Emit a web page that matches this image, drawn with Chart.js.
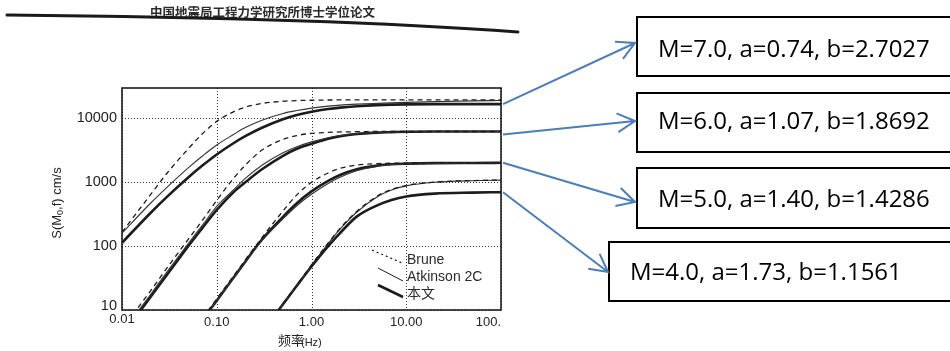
<!DOCTYPE html>
<html>
<head>
<meta charset="utf-8">
<script src="https://cdn.jsdelivr.net/npm/chart.js@4.4.0/dist/chart.umd.min.js"></script>
<style>
    html, body { margin: 0; padding: 0; background: #fff; }
    #wrap { position: relative; width: 950px; height: 351px; }
</style>
</head>
<body>
<div id="wrap"><canvas id="spectrumChart" width="950" height="351"></canvas></div>
<script>
// 频率 (Hz)
const freqs = [0.01, 0.02, 0.03, 0.05, 0.07, 0.1, 0.15, 0.2, 0.3, 0.5, 0.7, 1, 1.5, 2, 3, 5, 7, 10, 20, 50, 100];

// M=7.0
const m7Brune    = [165, 640, 1400, 3350, 5700, 9000, 12700, 15000, 17200, 18600, 19050, 19300, 19450, 19500, 19550, 19600, 19600, 19600, 19600, 19600, 19600];
const m7Atkinson = [160, 470, 840, 1680, 2560, 3850, 5600, 7200, 9400, 12000, 13300, 14500, 15600, 16200, 16750, 17250, 17550, 17850, 18350, 18850, 19150];
const m7Paper    = [113, 331, 596, 1190, 1810, 2730, 4090, 5270, 7140, 9700, 11300, 12700, 14050, 14800, 15550, 16200, 16470, 16650, 16770, 16800, 16800];
// M=6.0
const m6Brune    = [5, 20, 46, 128, 250, 520, 1150, 1850, 3200, 4700, 5400, 5850, 6050, 6150, 6200, 6250, 6250, 6250, 6250, 6250, 6250];
const m6Atkinson = [4.4, 17.5, 40, 110, 210, 420, 760, 1150, 1850, 2900, 3600, 4300, 5000, 5400, 5800, 6050, 6150, 6200, 6250, 6250, 6250];
const m6Paper    = [4, 16, 36, 100, 190, 370, 700, 1000, 1600, 2600, 3350, 4000, 4800, 5250, 5700, 6000, 6100, 6200, 6250, 6250, 6250];
// M=5.0
const m5Brune    = [0.15, 0.6, 1.35, 3.7, 7.3, 15, 34, 61, 136, 355, 635, 1000, 1400, 1650, 1860, 1960, 1990, 2000, 2020, 2020, 2020];
const m5Atkinson = [0.14, 0.57, 1.28, 3.5, 7, 14, 32, 57, 122, 268, 430, 650, 960, 1200, 1520, 1790, 1900, 1950, 2000, 2020, 2020];
const m5Paper    = [0.14, 0.57, 1.28, 3.5, 7, 14, 32, 57, 127, 288, 470, 720, 1050, 1300, 1600, 1830, 1920, 1960, 2000, 2010, 2020];
// M=4.0
const m4Brune    = [0.005, 0.02, 0.045, 0.12, 0.24, 0.5, 1.1, 2, 4.5, 12.5, 24.5, 51, 112, 190, 350, 615, 775, 890, 1010, 1065, 1085];
const m4Atkinson = [0.005, 0.02, 0.045, 0.12, 0.24, 0.5, 1.1, 2, 4.5, 12.5, 24, 50, 110, 185, 340, 600, 760, 880, 1000, 1060, 1080];
const m4Paper    = [0.005, 0.02, 0.045, 0.12, 0.24, 0.5, 1.1, 2, 4.4, 12.3, 24, 48, 100, 160, 290, 440, 530, 600, 665, 690, 700];

// 坐标轴刻度
const xTicks = [0.01, 0.1, 1, 10, 100];
const xTickLabels = ['0.01', '0.10', '1.00', '10.00', '100.'];
const yTicks = [10, 100, 1000, 10000];
const yTickLabels = ['10', '100', '1000', '10000'];

// 右侧参数框
const boxTexts = ['M=7.0, a=0.74, b=2.7027', 'M=6.0, a=1.07, b=1.8692', 'M=5.0, a=1.40, b=1.4286', 'M=4.0, a=1.73, b=1.1561'];
const legendLabels = ['Brune', 'Atkinson 2C', '本文'];

const INK = '#1c1c1c';
const BLUE = '#4a7ebb';

function pts(vals) {
    return freqs.map((f, i) => ({ x: f, y: vals[i] }));
}

function brune(vals) {
    return { data: pts(vals), borderColor: INK, borderWidth: 1.3, borderDash: [5, 4] };
}
function atkinson(vals) {
    return { data: pts(vals), borderColor: '#333', borderWidth: 1.1 };
}
function paper(vals) {
    return { data: pts(vals), borderColor: INK, borderWidth: 2.6 };
}

function drawArrow(ctx, x1, y1, x2, y2) {
    const ang = Math.atan2(y2 - y1, x2 - x1);
    const len = 20, spread = 0.49;
    ctx.save();
    ctx.strokeStyle = BLUE;
    ctx.lineWidth = 2;
    ctx.beginPath();
    ctx.moveTo(x1, y1);
    ctx.lineTo(x2, y2);
    ctx.moveTo(x2 - len * Math.cos(ang - spread), y2 - len * Math.sin(ang - spread));
    ctx.lineTo(x2, y2);
    ctx.lineTo(x2 - len * Math.cos(ang + spread), y2 - len * Math.sin(ang + spread));
    ctx.stroke();
    ctx.restore();
}

const decor = {
    id: 'decor',
    beforeDraw(chart) {
        const ctx = chart.ctx;
        ctx.save();
        ctx.fillStyle = '#fff';
        ctx.fillRect(0, 0, chart.width, chart.height);
        ctx.restore();
    },
    beforeDatasetsDraw(chart) {
        // 点状网格线
        const { ctx, chartArea: a } = chart;
        const xs = chart.scales.x, ys = chart.scales.y;
        ctx.save();
        ctx.strokeStyle = '#333';
        ctx.lineWidth = 1;
        ctx.setLineDash([1, 2]);
        ctx.beginPath();
        xTicks.forEach(v => {
            const px = Math.round(xs.getPixelForValue(v)) + 0.5;
            ctx.moveTo(px, a.top);
            ctx.lineTo(px, a.bottom);
        });
        yTicks.forEach(v => {
            const py = Math.round(ys.getPixelForValue(v)) + 0.5;
            ctx.moveTo(a.left, py);
            ctx.lineTo(a.right, py);
        });
        ctx.stroke();
        ctx.restore();
    },
    afterDatasetsDraw(chart) {
        const { ctx, chartArea: a } = chart;
        ctx.save();
        ctx.strokeStyle = INK;
        ctx.lineWidth = 1.6;
        ctx.strokeRect(a.left, a.top, a.right - a.left, a.bottom - a.top);
        ctx.restore();
    },
    afterDraw(chart) {
        const { ctx, chartArea: a } = chart;
        const xs = chart.scales.x, ys = chart.scales.y;
        ctx.save();

        // 页眉
        ctx.fillStyle = '#2a2a2a';
        ctx.font = 'bold 12.5px "Noto Sans CJK SC"';
        ctx.textBaseline = 'middle';
        ctx.textAlign = 'left';
        ctx.fillText('中国地震局工程力学研究所博士学位论文', 150, 12);
        ctx.strokeStyle = '#1a1a1a';
        ctx.lineWidth = 3;
        ctx.lineCap = 'round';
        ctx.beginPath();
        ctx.moveTo(7, 15);
        ctx.quadraticCurveTo(330, 18, 518, 32);
        ctx.stroke();

        // y 刻度
        ctx.fillStyle = '#222';
        ctx.font = '14.5px "Liberation Sans"';
        ctx.textAlign = 'right';
        yTicks.forEach((v, i) => {
            const py = ys.getPixelForValue(v) - (v === yTicks[0] ? 4 : 0);
            ctx.fillText(yTickLabels[i], a.left - 5, py);
        });

        // x 刻度
        ctx.font = '13px "Liberation Sans"';
        ctx.textAlign = 'center';
        xTicks.forEach((v, i) => {
            const w = ctx.measureText(xTickLabels[i]).width;
            const px = Math.min(xs.getPixelForValue(v), a.right - w / 2);
            ctx.fillText(xTickLabels[i], px, a.bottom + (i === 0 ? 9 : 12));
        });

        // 轴标题
        ctx.save();
        ctx.translate(57, 203);
        ctx.rotate(-Math.PI / 2);
        ctx.font = '13px "Liberation Sans"';
        ctx.textAlign = 'left';
        const p1 = 'S(M', p2 = ',f) cm/s';
        const w1 = ctx.measureText(p1).width;
        ctx.font = '9px "Liberation Sans"';
        const w0 = ctx.measureText('0').width;
        ctx.font = '13px "Liberation Sans"';
        const total = w1 + w0 + ctx.measureText(p2).width;
        let tx = -total / 2;
        ctx.fillText(p1, tx, 0);
        tx += w1;
        ctx.font = '9px "Liberation Sans"';
        ctx.fillText('0', tx, 4);
        tx += w0;
        ctx.font = '13px "Liberation Sans"';
        ctx.fillText(p2, tx, 0);
        ctx.restore();

        ctx.textAlign = 'left';
        ctx.font = '13px "Noto Sans CJK SC"';
        ctx.fillText('频率', 278, 340);
        ctx.font = '11px "Liberation Sans"';
        ctx.fillText('(Hz)', 301, 343);

        // 图例
        ctx.strokeStyle = INK;
        ctx.lineCap = 'butt';
        ctx.lineWidth = 1.3;
        ctx.setLineDash([2, 3]);
        ctx.beginPath(); ctx.moveTo(372, 250); ctx.lineTo(402, 263); ctx.stroke();
        ctx.setLineDash([]);
        ctx.lineWidth = 1;
        ctx.beginPath(); ctx.moveTo(378, 268); ctx.lineTo(403, 281); ctx.stroke();
        ctx.lineWidth = 2.6;
        ctx.beginPath(); ctx.moveTo(378, 285); ctx.lineTo(403, 297); ctx.stroke();
        ctx.fillStyle = '#2a2a2a';
        ctx.font = '14px "Liberation Sans"';
        ctx.fillText(legendLabels[0], 407, 260);
        ctx.fillText(legendLabels[1], 407, 277);
        ctx.font = '14px "Noto Sans CJK SC"';
        ctx.fillText(legendLabels[2], 407, 293);

        // 参数框
        const boxes = [
            { x: 637, y: 17, h: 59, tx: 658, ty: 50 },
            { x: 637, y: 93, h: 59, tx: 658, ty: 122 },
            { x: 637, y: 168, h: 60, tx: 658, ty: 200 },
            { x: 609, y: 242, h: 59, tx: 630, ty: 273 }
        ];
        ctx.strokeStyle = '#000';
        ctx.lineWidth = 2;
        ctx.fillStyle = '#000';
        ctx.font = '24px "Open Sans"';
        boxes.forEach((b, i) => {
            ctx.strokeRect(b.x, b.y, 960 - b.x, b.h);
            ctx.fillText(boxTexts[i], b.tx, b.ty);
        });

        // 箭头: 从各组曲线末端指向参数框
        const ends = [[635, 43], [635, 121], [635, 202], [608, 272]];
        const groups = [m7Paper, m6Paper, m5Paper, m4Paper];
        groups.forEach((g, i) => {
            const sy = ys.getPixelForValue(g[g.length - 1]) + (i === 1 ? 3 : 0);
            drawArrow(ctx, a.right + 2, sy, ends[i][0], ends[i][1]);
        });

        ctx.restore();
    }
};

const ctx = document.getElementById('spectrumChart').getContext('2d');
const spectrumChart = new Chart(ctx, {
    type: 'line',
    data: {
        datasets: [
            brune(m7Brune), atkinson(m7Atkinson), paper(m7Paper),
            brune(m6Brune), atkinson(m6Atkinson), paper(m6Paper),
            brune(m5Brune), atkinson(m5Atkinson), paper(m5Paper),
            brune(m4Brune), atkinson(m4Atkinson), paper(m4Paper)
        ]
    },
    options: {
        responsive: false,
        animation: false,
        layout: { padding: { left: 0, top: 88, right: 449, bottom: 0 } },
        elements: {
            point: { radius: 0 },
            line: { cubicInterpolationMode: 'monotone', fill: false }
        },
        plugins: {
            legend: { display: false },
            tooltip: { enabled: false }
        },
        scales: {
            x: {
                type: 'logarithmic',
                min: 0.01,
                max: 100,
                afterBuildTicks: (scale) => { scale.ticks = xTicks.map(v => ({ value: v })); },
                afterFit: (scale) => { scale.height = 41; },
                ticks: { display: false },
                grid: { display: false },
                border: { display: false }
            },
            y: {
                type: 'logarithmic',
                min: 10,
                max: 30000,
                afterBuildTicks: (scale) => { scale.ticks = yTicks.map(v => ({ value: v })); },
                afterFit: (scale) => { scale.width = 122; },
                ticks: { display: false },
                grid: { display: false },
                border: { display: false }
            }
        }
    },
    plugins: [decor]
});
</script>
</body>
</html>
